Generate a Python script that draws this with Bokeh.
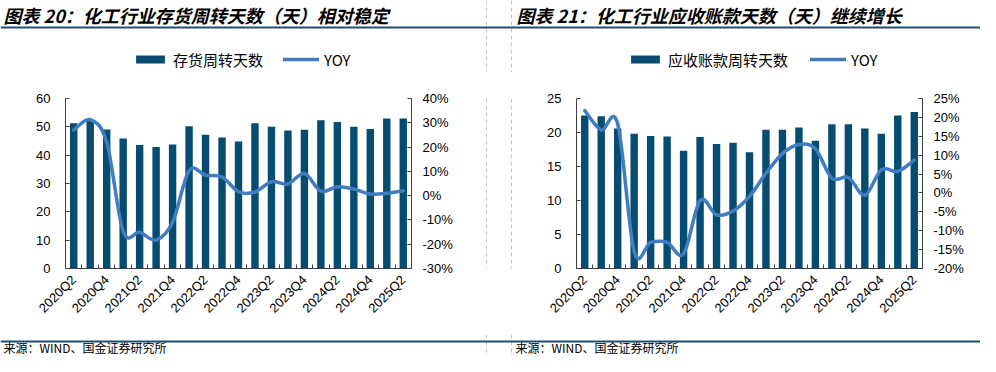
from bokeh.plotting import figure
from bokeh.models import (Range1d, LinearAxis, FixedTicker, PrintfTickFormatter,
                          Label, BoxAnnotation, Legend, LegendItem, Span)
from bokeh.layouts import row, column
from bokeh.embed import file_html
from bokeh.resources import INLINE
import math

# ---------------- data ----------------
quarters = ["2020Q2", "2020Q3", "2020Q4", "2021Q1", "2021Q2", "2021Q3", "2021Q4",
            "2022Q1", "2022Q2", "2022Q3", "2022Q4", "2023Q1", "2023Q2", "2023Q3",
            "2023Q4", "2024Q1", "2024Q2", "2024Q3", "2024Q4", "2025Q1", "2025Q2"]
tick_labels = ["2020Q2", "2020Q4", "2021Q2", "2021Q4", "2022Q2", "2022Q4",
               "2023Q2", "2023Q4", "2024Q2", "2024Q4", "2025Q2"]

inventory_days = [51.3, 52.3, 49.1, 45.9, 43.6, 42.9, 43.8, 50.2, 47.2, 46.2, 44.8,
                  51.3, 50.0, 48.7, 49.0, 52.3, 51.7, 50.0, 49.2, 52.9, 52.9]
inventory_yoy = [27.0, 31.3, 22.0, -14.7, -15.1, -18.3, -11.0, 10.2, 8.4, 7.7, 1.6,
                 1.5, 5.7, 4.8, 9.1, 1.9, 3.7, 2.7, 0.7, 1.0, 2.0]

receivable_days = [22.5, 22.4, 20.6, 19.8, 19.5, 19.4, 17.3, 19.35, 18.3, 18.5, 17.1,
                   20.4, 20.4, 20.75, 18.8, 21.2, 21.2, 20.6, 19.8, 22.5, 23.0]
receivable_yoy = [21.8, 16.7, 18.3, -15.5, -13.1, -13.1, -16.1, -2.0, -5.8, -4.8, -0.9,
                  5.2, 10.4, 12.8, 11.7, 3.9, 4.1, -0.6, 6.1, 5.7, 8.7]

titles = ["图表 20：化工行业存货周转天数（天）相对稳定",
          "图表 21：化工行业应收账款天数（天）继续增长"]
bar_names = ["存货周转天数", "应收账款周转天数"]
line_name = "YOY"
source_text = "来源：WIND、国金证券研究所"

BAR_COLOR = "#064B70"
LINE_COLOR = "#3F7CC0"
AXIS_COLOR = "#404040"
RULE_COLOR = "#1F4E6E"
DASH_COLOR = "#C4C4C4"
CJK = "Noto Sans CJK SC"

W = 980
TOP_H, MAIN_H, BOT_H = 72, 262, 22
DASH_X = [486, 511]
P1_W, GAP_W = 485, 27
P2_W = W - P1_W - GAP_W
idx = list(range(len(quarters)))


def bare(width, height):
    f = figure(width=width, height=height, x_range=Range1d(0, width),
               y_range=Range1d(height, 0),
               x_axis_type=None, y_axis_type=None, output_backend="svg",
               toolbar_location=None, min_border=0, outline_line_color=None,
               background_fill_color="white", border_fill_color="white")
    f.xgrid.grid_line_color = None
    f.ygrid.grid_line_color = None
    return f


def bezier_cols(xs, ys):
    n = len(xs)
    cols = {k: [] for k in ("x0", "y0", "x1", "y1", "cx0", "cy0", "cx1", "cy1")}
    for i in range(n - 1):
        ip, inext = max(i - 1, 0), min(i + 2, n - 1)
        cols["x0"].append(xs[i]); cols["y0"].append(ys[i])
        cols["x1"].append(xs[i + 1]); cols["y1"].append(ys[i + 1])
        cols["cx0"].append(xs[i] + (xs[i + 1] - xs[ip]) / 6)
        cols["cy0"].append(ys[i] + (ys[i + 1] - ys[ip]) / 6)
        cols["cx1"].append(xs[i + 1] - (xs[inext] - xs[i]) / 6)
        cols["cy1"].append(ys[i + 1] - (ys[inext] - ys[i]) / 6)
    return cols


def dashes(f, xs):
    for x in xs:
        f.add_layout(Span(location=x, dimension="height", line_color=DASH_COLOR,
                          line_width=1, line_dash="4 3"))


# ---------------- top strip: titles, rule, legends ----------------
top = bare(W, TOP_H)
dashes(top, DASH_X)
top.add_layout(BoxAnnotation(left=0, right=W, top=26, bottom=28, fill_color=RULE_COLOR,
                             fill_alpha=1, line_color=None))
for tx, t in zip([3, 516], titles):
    top.add_layout(Label(x=tx, y=14, text=t, text_font=CJK,
                         text_font_style="bold italic", text_font_size="18px",
                         text_color="black", text_baseline="middle", text_align="left"))

for lx, name, spacing, days, yoy in zip([132, 627], bar_names, [20, 22],
                                        [inventory_days, receivable_days],
                                        [inventory_yoy, receivable_yoy]):
    # hidden copies of the series, only used to draw the legend swatches
    hb = top.vbar(x=idx, top=days, width=0.45, fill_color=BAR_COLOR, line_color=None,
                  visible=False)
    hl = top.line(x=idx, y=yoy, line_color=LINE_COLOR, line_width=3.5,
                  line_cap="round", visible=False)
    lg = Legend(items=[LegendItem(label=name, renderers=[hb]),
                       LegendItem(label=line_name, renderers=[hl])],
                location=(lx, TOP_H - 69.5), orientation="horizontal",
                border_line_color=None, background_fill_alpha=0,
                inactive_fill_alpha=0,
                padding=0, margin=0, spacing=spacing,
                glyph_width=36, glyph_height=10, label_height=15,
                label_standoff=5, label_text_font=CJK,
                label_text_font_size="15px", label_text_color="black")
    top.add_layout(lg, "center")


# ---------------- main panels ----------------
def panel(width, fl, fr, ft, fb, days, yoy, ylim, ystep, rlim, rstep):
    p = figure(width=width, height=MAIN_H, x_range=Range1d(-0.5, len(quarters) - 0.5),
               y_range=Range1d(*ylim), output_backend="svg", toolbar_location=None,
               min_border_left=fl, min_border_right=width - fr,
               min_border_top=ft, min_border_bottom=MAIN_H - fb,
               outline_line_color=None, background_fill_color="white",
               border_fill_color="white")
    p.xgrid.grid_line_color = None
    p.ygrid.grid_line_color = None
    p.extra_y_ranges = {"yoy": Range1d(*rlim)}

    p.vbar(x=idx, top=days, width=0.45, fill_color=BAR_COLOR, line_color=None)
    p.bezier(line_color=LINE_COLOR, line_width=3.5, line_cap="round",
             y_range_name="yoy", **bezier_cols(idx, yoy))

    xa = p.xaxis[0]
    xa.ticker = FixedTicker(ticks=idx[::2],
                            minor_ticks=[i - 0.5 for i in range(len(quarters) + 1)])
    xa.major_label_overrides = {i: lab for i, lab in zip(idx[::2], tick_labels)}
    xa.major_label_orientation = math.pi / 4
    xa.major_tick_in = 0
    xa.major_tick_out = 0
    xa.minor_tick_in = 4
    xa.minor_tick_out = 0
    xa.major_label_standoff = 9

    ya = p.yaxis[0]
    ya.ticker = FixedTicker(ticks=list(range(ylim[0], ylim[1] + 1, ystep)))
    ya.major_label_standoff = 15

    ra = LinearAxis(y_range_name="yoy",
                    ticker=FixedTicker(ticks=list(range(rlim[0], rlim[1] + 1, rstep))),
                    formatter=PrintfTickFormatter(format="%d%%"))
    ra.major_label_standoff = 11
    p.add_layout(ra, "right")

    for ax in (xa, ya, ra):
        ax.axis_line_color = AXIS_COLOR
        ax.major_tick_line_color = AXIS_COLOR
        ax.minor_tick_line_color = AXIS_COLOR
        ax.major_label_text_font = "Liberation Sans"
        ax.major_label_text_font_size = "13px"
        ax.major_label_text_color = "black"
    for ax in (ya, ra):
        ax.major_tick_in = 4
        ax.major_tick_out = 0
        ax.minor_tick_line_color = None
    return p


p1 = panel(P1_W, 65, 411, 98 - TOP_H, 269 - TOP_H, inventory_days, inventory_yoy,
           (0, 60), 10, (-30, 40), 10)
p2 = panel(P2_W, 576 - P1_W - GAP_W, 922 - P1_W - GAP_W, 96 - TOP_H, 268 - TOP_H,
           receivable_days, receivable_yoy, (0, 25), 5, (-20, 25), 5)

gap = bare(GAP_W, MAIN_H)
dashes(gap, [x - P1_W for x in DASH_X])

# ---------------- bottom strip: rule and sources ----------------
bot = bare(W, BOT_H)
dashes(bot, DASH_X)
bot.add_layout(BoxAnnotation(left=0, right=W, top=6, bottom=8, fill_color=RULE_COLOR,
                             fill_alpha=1, line_color=None))
for sx in [3, 515]:
    bot.add_layout(Label(x=sx, y=21.5, text=source_text, text_font=CJK,
                         text_font_size="12px", text_color="black",
                         text_baseline="bottom", text_align="left"))

layout = column(top, row(p1, gap, p2, spacing=0), bot, spacing=0)
open("out.html", "w").write(file_html(layout, INLINE))
